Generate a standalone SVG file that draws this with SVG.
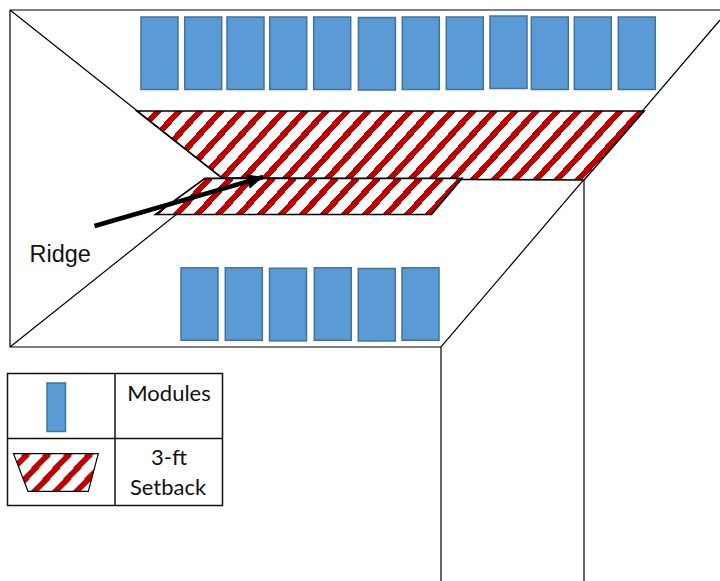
<svg xmlns="http://www.w3.org/2000/svg" width="720" height="581" viewBox="0 0 720 581">
<style>
.m{fill:#5B9BD5;stroke:#41719C;stroke-width:1.5}
.l{fill:none;stroke:#000;stroke-width:1.2}
.e{stroke:#000;stroke-width:1.7}
.t{font-family:Lato,"Open Sans",sans-serif;font-size:22px;fill:#111;text-anchor:middle}
</style>
<defs>
<pattern id="hatch" patternUnits="userSpaceOnUse" x="11" y="111" width="21" height="23">
<rect width="21" height="23" fill="#fff"/>
<g fill="#C00000" shape-rendering="crispEdges">
<polygon points="17,0 25,0 4,23 -4,23"/>
<polygon points="-4,0 4,0 -17,23 -25,23"/>
<polygon points="38,0 46,0 25,23 17,23"/>
</g>
</pattern>
<pattern id="hatch2" href="#hatch" x="19"/>
<pattern id="hatch3" href="#hatch" x="4.300"/>
<marker id="head" markerUnits="userSpaceOnUse" markerWidth="18" markerHeight="16" refX="16" refY="8" orient="auto">
<path d="M0,0.500L16,8L0,15.500Z" fill="#000"/>
</marker>
</defs>
<g id="roof">
<path class="l" d="M720,10H10V347H441L720,20M441,347V581M584,180V581M10,10L222,178M10,347L222,178"/>
</g>
<g id="setback-upper"><polygon class="e" fill="url(#hatch)" points="137,111 644,111 584,180 462,179.500 222,178"/></g>
<g id="setback-lower"><polygon class="e" fill="url(#hatch2)" points="205,178.300 462,178.300 431.500,214.500 155.500,214.500"/></g>
<g id="modules-top">
<rect class="m" x="141" y="17" width="37" height="72.500"/>
<rect class="m" x="184.700" y="17" width="37" height="72.500"/>
<rect class="m" x="227" y="17" width="37" height="72.500"/>
<rect class="m" x="269.700" y="17" width="37" height="72.500"/>
<rect class="m" x="313.700" y="17" width="37" height="72.500"/>
<rect class="m" x="358.400" y="17.500" width="37" height="72.500"/>
<rect class="m" x="402.300" y="17" width="37" height="72.500"/>
<rect class="m" x="446.300" y="17" width="37" height="72.500"/>
<rect class="m" x="490" y="16" width="37" height="72.500"/>
<rect class="m" x="531.300" y="17" width="37" height="72.500"/>
<rect class="m" x="574.300" y="17" width="37" height="72.500"/>
<rect class="m" x="618.300" y="17" width="37" height="72.500"/>
</g>
<g id="modules-bottom">
<rect class="m" x="181" y="267.800" width="37" height="72.500"/>
<rect class="m" x="225.300" y="267.800" width="37" height="72.500"/>
<rect class="m" x="269.500" y="268.300" width="37" height="72.500"/>
<rect class="m" x="314.300" y="267.800" width="37" height="72.500"/>
<rect class="m" x="358.300" y="268.500" width="37" height="72.500"/>
<rect class="m" x="402" y="267.800" width="37" height="72.500"/>
</g>
<g id="connectors">
<line x1="94.500" y1="226" x2="263" y2="177" stroke="#000" stroke-width="4.500" marker-end="url(#head)"/>
</g>
<g id="ridge-label"><text x="29.500" y="261.500" font-family="Liberation Sans, Arial, sans-serif" font-size="23.500" fill="#111">Ridge</text></g>
<g id="legend">
<path fill="none" stroke="#111" stroke-width="1.500" d="M7.500,373.500H222.500V505.500H7.500ZM115,373.500V505.500M7.500,438.500H222.500"/>
<rect class="m" x="47" y="383" width="18.500" height="48.500"/>
<polygon fill="url(#hatch3)" stroke="#000" stroke-width="1.200" points="13.500,453.700 98.300,453.700 88.300,491.300 28,491.300"/>
<text class="t" x="169" y="400.500">Modules</text>
<text class="t" x="169" y="465">3-ft</text>
<text class="t" x="168" y="494.500">Setback</text>
</g>
</svg>
